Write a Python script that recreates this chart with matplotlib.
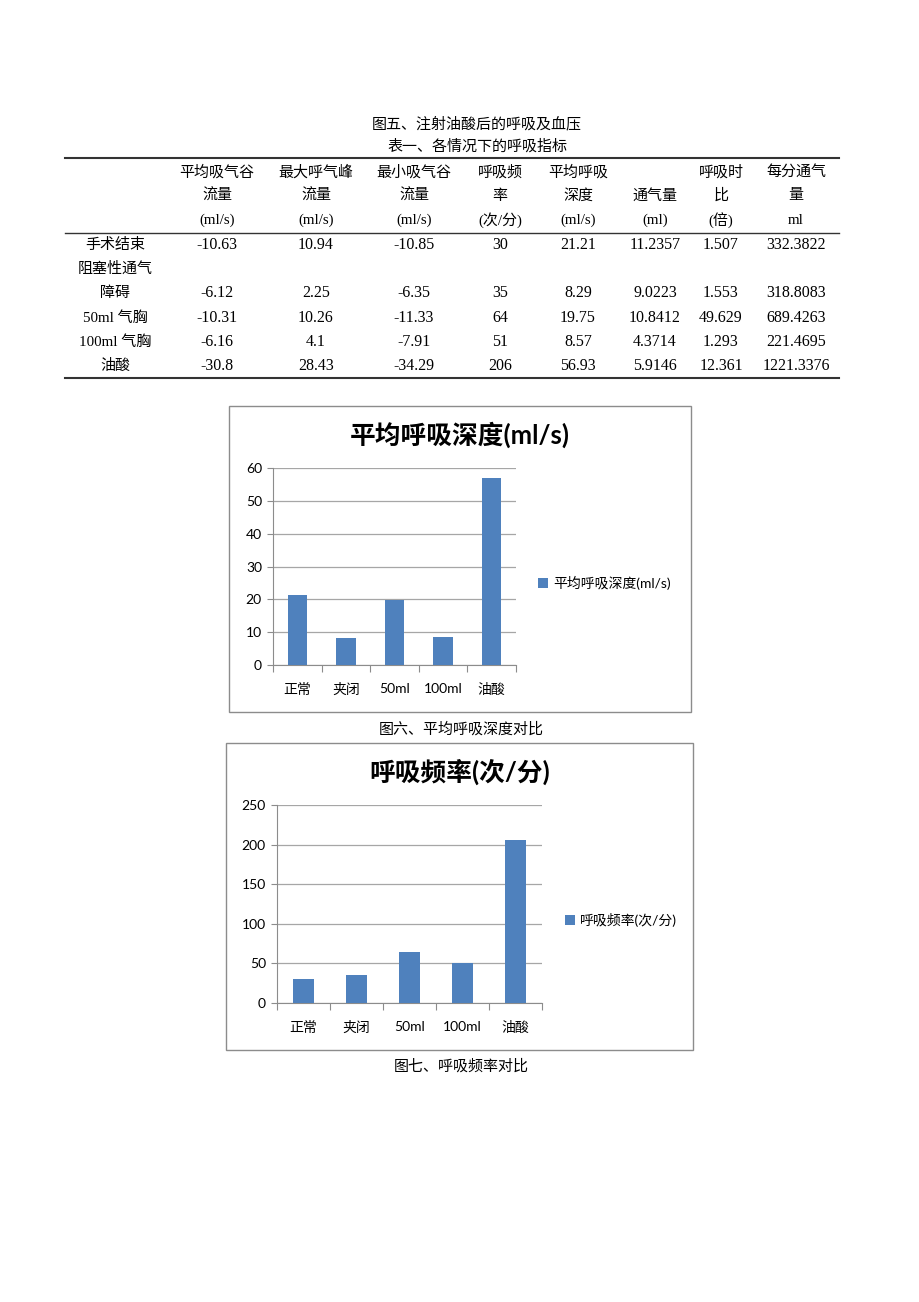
import matplotlib
matplotlib.use("Agg")
import matplotlib.pyplot as plt
from matplotlib.lines import Line2D
from matplotlib.patches import Rectangle

W, H = 920, 1302

# table data
row_labels = ['手术结束', '障碍', '50ml 气胸', '100ml 气胸', '油酸']
mean_insp_trough = [-10.63, -6.12, -10.31, -6.16, -30.8]
max_exp_peak = [10.94, 2.25, 10.26, 4.1, 28.43]
min_insp_trough = [-10.85, -6.35, -11.33, -7.91, -34.29]
resp_rate = [30, 35, 64, 51, 206]
mean_depth = [21.21, 8.29, 19.75, 8.57, 56.93]
tidal_volume = [11.2357, 9.0223, 10.8412, 4.3714, 5.9146]
resp_ratio = [1.507, 1.553, 49.629, 1.293, 12.361]
minute_vent = [332.3822, 318.8083, 689.4263, 221.4695, 1221.3376]
headers = [
    ['平均吸气谷', '流量', '(ml/s)'],
    ['最大呼气峰', '流量', '(ml/s)'],
    ['最小吸气谷', '流量', '(ml/s)'],
    ['呼吸频', '率', '(次/分)'],
    ['平均呼吸', '深度', '(ml/s)'],
    ['', '通气量', '(ml)'],
    ['呼吸时', '比', '(倍)'],
    ['每分通气', '量', 'ml'],
]

# chart data
categories = ['正常', '夹闭', '50ml', '100ml', '油酸']
depth_title = '平均呼吸深度(ml/s)'
rate_title = '呼吸频率(次/分)'

TABLE_FONT = ['Liberation Serif', 'Noto Sans CJK SC']
CHART_FONT = ['Lato', 'Noto Sans CJK SC']
BAR_COLOR = '#4F81BD'

fig = plt.figure(figsize=(W / 100, H / 100), dpi=100)


def fx(x):
    return x / W


def fy(y):
    return 1 - y / H


def ftext(x, y, s, size=10.8, family=TABLE_FONT, **kw):
    fig.text(fx(x), fy(y), s, fontsize=size, family=family,
             ha=kw.pop('ha', 'center'), va=kw.pop('va', 'center'), **kw)


def hline(x0, x1, y, lw=1.0):
    fig.add_artist(Line2D([fx(x0), fx(x1)], [fy(y), fy(y)], color='#333333', lw=lw,
                          transform=fig.transFigure))


# table
ftext(477, 124, '图五、注射油酸后的呼吸及血压')
ftext(477, 146, '表一、各情况下的呼吸指标')
hline(65, 839, 158, 1.5)
hline(65, 839, 233, 1.0)
hline(65, 839, 378, 1.5)

col_x = [217, 316, 414, 500, 578, 655, 721, 796]
for cx, lines in zip(col_x, headers):
    for ly, s in zip([172, 196, 220], lines):
        if s:
            ftext(cx, ly, s)

row_y = [245, 293, 318, 342, 366]
ftext(115, 269, '阻塞性通气')
columns = [mean_insp_trough, max_exp_peak, min_insp_trough, resp_rate,
           mean_depth, tidal_volume, resp_ratio, minute_vent]
for i, ry in enumerate(row_y):
    ftext(115, ry, row_labels[i])
    for cx, col in zip(col_x, columns):
        ftext(cx, ry, str(col[i]), size=11.5)


def bar_chart(values, box, plot, ymax, ystep, title, title_y, legend_xy, caption, caption_y):
    bx0, by0, bx1, by1 = box
    fig.add_artist(Rectangle((fx(bx0), fy(by1)), fx(bx1 - bx0), (by1 - by0) / H,
                             transform=fig.transFigure, fill=False,
                             edgecolor='#8C8C8C', lw=1.0))
    px0, py_top, px1, py_bot = plot
    ax = fig.add_axes([fx(px0), fy(py_bot), fx(px1 - px0), (py_bot - py_top) / H])
    bars = ax.bar(range(len(categories)), values, width=0.4, color=BAR_COLOR,
                  label=title, zorder=3)
    ax.set_xlim(-0.5, len(categories) - 0.5)
    ax.set_ylim(0, ymax)
    ax.set_yticks(range(0, ymax + 1, ystep))
    ax.yaxis.grid(True, color='#A6A6A6', lw=0.9)
    ax.set_axisbelow(True)
    for side in ['top', 'right']:
        ax.spines[side].set_visible(False)
    for side in ['left', 'bottom']:
        ax.spines[side].set_color('#8C8C8C')
    ax.set_xticks([i - 0.5 for i in range(len(categories) + 1)], minor=False)
    ax.set_xticklabels([])
    ax.set_xticks(range(len(categories)), minor=True)
    ax.set_xticklabels(categories, minor=True, family=CHART_FONT, fontsize=10)
    ax.tick_params(axis='x', which='major', length=5, color='#8C8C8C')
    ax.tick_params(axis='x', which='minor', length=0, pad=13)
    ax.tick_params(axis='y', length=4, color='#8C8C8C', labelsize=10, pad=4)
    for lab in ax.get_yticklabels():
        lab.set_family(CHART_FONT)
    ftext((bx0 + bx1) / 2, title_y, title, size=18.5, family=CHART_FONT, weight='bold')
    fig.legend(handles=[bars], labels=[title], loc='center left',
               bbox_to_anchor=(fx(legend_xy[0]), fy(legend_xy[1])), frameon=False,
               prop={'family': CHART_FONT, 'size': 10}, handlelength=0.7,
               handleheight=0.7, handletextpad=0.4, borderaxespad=0, borderpad=0)
    ftext(461, caption_y, caption)
    return ax


bar_chart(mean_depth, (229, 406, 691, 712), (273, 468, 516, 665), 60, 10,
          depth_title, 435, (538, 583), '图六、平均呼吸深度对比', 729)
bar_chart(resp_rate, (226, 743, 693, 1050), (277, 805, 542, 1003), 250, 50,
          rate_title, 772, (565, 920), '图七、呼吸频率对比', 1066)

fig.savefig('out.png', dpi=100, facecolor='white')
